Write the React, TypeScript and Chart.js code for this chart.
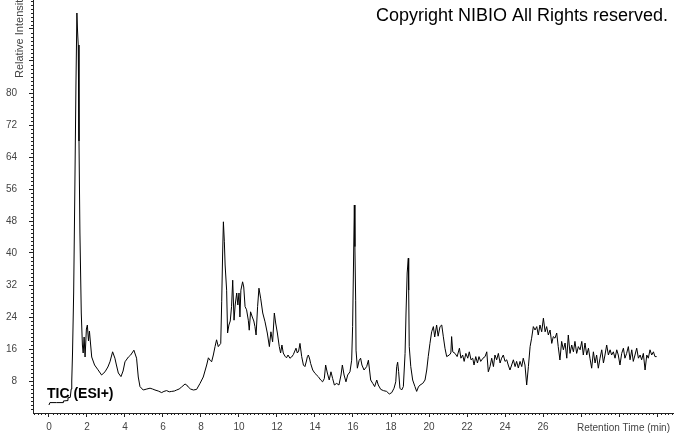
import React, { useEffect, useRef } from 'react';
import { Chart, registerables } from 'chart.js';

Chart.register(...registerables);

// ---- Data ----
const retentionTimes: number[] = [
  0.00, 0.05, 0.40, 0.74, 0.76, 0.95, 1.00, 1.12, 1.17, 1.20, 1.24, 1.30, 1.36, 1.42, 1.47, 1.50, 1.54, 1.58, 1.63, 1.70,
  1.76, 1.80, 1.85, 1.90, 1.97, 2.02, 2.08, 2.13, 2.25, 2.40, 2.58, 2.77, 2.95, 3.10, 3.21, 3.35, 3.47, 3.55, 3.65, 3.79,
  3.90, 4.00, 4.18, 4.30, 4.47, 4.61, 4.70, 4.79, 4.96, 5.15, 5.32, 5.45, 5.58, 5.75, 5.93, 6.05, 6.19, 6.33, 6.46, 6.60,
  6.72, 6.85, 6.98, 7.16, 7.25, 7.33, 7.45, 7.60, 7.77, 7.95, 8.12, 8.30, 8.39, 8.48, 8.56, 8.65, 8.74, 8.82, 8.91, 9.04,
  9.09, 9.14, 9.18, 9.23, 9.27, 9.35, 9.40, 9.47, 9.54, 9.61, 9.67, 9.74, 9.80, 9.88, 9.94, 10.00, 10.05, 10.10, 10.19, 10.25,
  10.32, 10.40, 10.49, 10.54, 10.61, 10.70, 10.78, 10.84, 10.90, 10.98, 11.05, 11.14, 11.25, 11.37, 11.49, 11.60, 11.68, 11.77, 11.86, 11.93,
  12.02, 12.12, 12.19, 12.26, 12.33, 12.42, 12.50, 12.58, 12.68, 12.77, 12.86, 13.00, 13.07, 13.14, 13.21, 13.30, 13.39, 13.47, 13.55, 13.60,
  13.65, 13.72, 13.77, 13.88, 14.00, 14.17, 14.30, 14.40, 14.49, 14.56, 14.65, 14.75, 14.84, 14.93, 15.02, 15.14, 15.26, 15.37, 15.44, 15.53,
  15.63, 15.72, 15.84, 15.93, 15.98, 16.02, 16.07, 16.10, 16.14, 16.16, 16.23, 16.32, 16.40, 16.47, 16.58, 16.72, 16.81, 16.87, 16.93, 17.04,
  17.14, 17.25, 17.33, 17.46, 17.60, 17.77, 17.91, 18.04, 18.16, 18.25, 18.30, 18.35, 18.40, 18.47, 18.56, 18.65, 18.74, 18.79, 18.85, 18.91,
  18.93, 18.96, 19.04, 19.14, 19.26, 19.35, 19.44, 19.53, 19.67, 19.79, 19.88, 19.96, 20.05, 20.14, 20.23, 20.30, 20.40, 20.48, 20.58, 20.67,
  20.75, 20.84, 20.93, 21.07, 21.15, 21.19, 21.25, 21.37, 21.48, 21.60, 21.68, 21.77, 21.85, 21.94, 22.04, 22.12, 22.21, 22.30, 22.37, 22.46,
  22.55, 22.63, 22.72, 22.84, 22.95, 23.04, 23.12, 23.21, 23.30, 23.39, 23.47, 23.56, 23.65, 23.74, 23.82, 23.91, 24.00, 24.09, 24.17, 24.26,
  24.35, 24.44, 24.53, 24.61, 24.70, 24.79, 24.88, 24.96, 25.05, 25.14, 25.23, 25.32, 25.40, 25.49, 25.58, 25.67, 25.75, 25.84, 25.93, 26.02,
  26.11, 26.19, 26.28, 26.37, 26.46, 26.54, 26.63, 26.72, 26.80, 26.89, 26.98, 27.07, 27.16, 27.25, 27.33, 27.42, 27.51, 27.60, 27.68, 27.77,
  27.86, 27.95, 28.04, 28.12, 28.21, 28.30, 28.39, 28.47, 28.56, 28.65, 28.74, 28.82, 28.91, 29.00, 29.09, 29.18, 29.26, 29.35, 29.44, 29.53,
  29.61, 29.70, 29.79, 29.88, 29.96, 30.05, 30.14, 30.23, 30.31, 30.40, 30.49, 30.58, 30.67, 30.75, 30.84, 30.93, 31.02, 31.11, 31.19, 31.28,
  31.37, 31.46, 31.54, 31.63, 31.72, 31.81, 31.89, 31.98,
];

const intensities: number[] = [
  2.0, 2.6, 2.6, 2.6, 3.0, 3.1, 3.8, 3.9, 6.0, 8.0, 15, 30, 55, 82, 100, 96, 92, 68, 45, 25,
  17, 15, 19, 14, 21, 22, 18, 20.5, 14, 12, 10.8, 9.5, 10.3, 11.5, 12.8, 15.3, 13.7, 12, 10, 9.1,
  10.5, 12.8, 14, 14.5, 15.7, 13.7, 9, 6.6, 5.75, 6.0, 6.2, 6.0, 5.75, 5.5, 5.1, 5.4, 5.6, 5.3, 5.4, 5.5,
  5.75, 6.0, 6.5, 7.25, 7.0, 6.5, 6.0, 5.75, 5.9, 7.4, 9.0, 12, 13.8, 13.2, 12.8, 14.5, 16.6, 18.3, 16.6, 17.4,
  27.8, 40, 47.8, 42.8, 37, 30.7, 20, 22, 23, 26.6, 33.2, 23.2, 27, 30, 27, 30, 24, 30.7, 32.8, 31.5,
  26.6, 25.8, 23.2, 20.7, 25.3, 24, 23, 21.6, 19.5, 26.6, 31.2, 28.7, 25, 22.8, 20, 16.6, 20.3, 17.8, 25, 22.5,
  20, 16.6, 15, 17, 15, 14.2, 13.8, 14.5, 13.7, 14.0, 14.6, 16.2, 15, 15.5, 17.4, 14.1, 12, 11.6, 13.0, 14.1,
  14.5, 13.5, 12.4, 10.75, 9.9, 9.1, 8.25, 7.8, 8.6, 12, 10, 8.25, 10.3, 8.6, 7, 7.4, 7, 9.5, 12, 9.5,
  7.8, 9.5, 10.3, 13.2, 21.6, 35, 52, 41.6, 28.2, 15.7, 11.2, 13.1, 13.7, 12, 10.75, 11.6, 13.2, 10.75, 8.25, 7.4,
  6.6, 8.25, 7, 5.9, 5.6, 5.4, 4.75, 5.1, 6.2, 7.8, 11.6, 12.7, 10.4, 6.2, 5.75, 6.6, 14.9, 25, 35, 38.7,
  30.7, 16.6, 11.6, 8.25, 6.6, 5.4, 6.5, 7, 7.4, 8.25, 10.75, 14.1, 17.4, 20.3, 21.6, 19, 22, 19.2, 21.6, 22,
  19.2, 16.2, 14.1, 14.5, 15.0, 19.1, 15.3, 14.9, 14.1, 16.2, 13.7, 14.5, 12.9, 14.9, 13.7, 15.3, 13.3, 13.7, 12, 14.1,
  12.5, 14.1, 12.9, 13.7, 14.1, 15.3, 10.3, 11.6, 13.7, 11.6, 14.5, 13.3, 14.9, 12.5, 13.7, 14.5, 12.9, 13.3, 12, 10.75,
  12, 13.3, 11.6, 12.9, 11.25, 12.9, 11.6, 13.7, 12, 7, 11.6, 16.6, 18.7, 21.6, 20.75, 21.6, 19.5, 22, 20.3, 23.7,
  20.3, 21.6, 19.5, 20.75, 17.4, 19.1, 18.7, 20, 16.6, 13.25, 17.9, 15.8, 17.5, 13.7, 19.5, 14.9, 17, 15.3, 17.9, 14.9,
  16.6, 15.8, 17.9, 14.5, 17.5, 14.5, 16.2, 13.7, 11.2, 15.3, 12.5, 14.5, 11.2, 13.7, 15.8, 12.5, 14.5, 17, 14.5, 15.8,
  14.5, 15.3, 13.7, 15.8, 14.5, 12, 14.9, 16.2, 13.7, 14.9, 16.6, 13.3, 15.8, 12.9, 14.5, 16.2, 13.7, 14.5, 13.3, 14.9,
  10.75, 14.5, 13.7, 15.8, 14.5, 15.3, 14.1, 14.1,
];

// Axis ticks and labels
const xMajorTicks: number[] = [0, 2, 4, 6, 8, 10, 12, 14, 16, 18, 20, 22, 24, 26, 28, 30, 32];
const xTickLabels: string[] = ['0', '2', '4', '6', '8', '10', '12', '14', '16', '18', '20', '22', '24', '26'];
const yMajorTicks: number[] = [8, 16, 24, 32, 40, 48, 56, 64, 72, 80, 88, 96];
const yTickLabels: string[] = ['8', '16', '24', '32', '40', '48', '56', '64', '72', '80'];
const xMinorStep = 0.2;
const yMinorStep = 1;

const X_MIN = -0.84;
const X_MAX = 32.84;
const Y_MIN = 0;
const Y_MAX = 103.25;

const xTitle = 'Retention Time (min)';
const yTitle = 'Relative Intensity';
const copyrightText = 'Copyright NIBIO All Rights reserved.';
const traceLabel = 'TIC (ESI+)';

const FONT = "'Liberation Sans', Arial, sans-serif";
const AXIS_COLOR = '#222';
const LABEL_COLOR = '#444';

const decorPlugin = {
  id: 'decor',
  afterDraw(chart: any) {
    const { ctx, chartArea, scales } = chart;
    const xs = scales.x;
    const ys = scales.y;
    ctx.save();
    ctx.strokeStyle = AXIS_COLOR;
    ctx.lineWidth = 1;
    ctx.beginPath();
    // minor y ticks
    for (let v = Y_MIN; v <= Y_MAX + 1e-6; v += yMinorStep) {
      const r = Math.round(v * 10) / 10;
      if (Math.abs(r % 8) < 1e-6) continue;
      const py = Math.round(ys.getPixelForValue(r)) + 0.5;
      ctx.moveTo(chartArea.left - 2, py);
      ctx.lineTo(chartArea.left, py);
    }
    // minor x ticks
    for (let k = Math.ceil(X_MIN / xMinorStep); k * xMinorStep <= X_MAX; k++) {
      const t = Math.round(k * xMinorStep * 10) / 10;
      if (Math.abs(t % 2) < 1e-6) continue;
      const px = Math.round(xs.getPixelForValue(t)) + 0.5;
      ctx.moveTo(px, chartArea.bottom);
      ctx.lineTo(px, chartArea.bottom + 2);
    }
    ctx.stroke();

    // y-axis title (rotated, cut at top)
    ctx.save();
    ctx.translate(22.5, 78);
    ctx.rotate(-Math.PI / 2);
    ctx.font = `11px ${FONT}`;
    ctx.fillStyle = LABEL_COLOR;
    ctx.textAlign = 'left';
    ctx.textBaseline = 'alphabetic';
    ctx.fillText(yTitle, 0, 0);
    ctx.restore();

    // x-axis title
    ctx.font = `10px ${FONT}`;
    ctx.fillStyle = LABEL_COLOR;
    ctx.textAlign = 'left';
    ctx.textBaseline = 'middle';
    ctx.fillText(xTitle, 577, 428);

    // copyright
    ctx.font = `18px ${FONT}`;
    ctx.fillStyle = '#000';
    ctx.textAlign = 'left';
    ctx.textBaseline = 'alphabetic';
    ctx.fillText(copyrightText, 376, 21);

    // trace label
    ctx.font = `bold 14px ${FONT}`;
    ctx.fillStyle = '#000';
    ctx.fillText(traceLabel, 47, 398);
    ctx.restore();
  },
};

export default function App() {
  const canvasRef = useRef<HTMLCanvasElement | null>(null);

  useEffect(() => {
    const canvas = canvasRef.current;
    if (!canvas) return;
    const points = retentionTimes.map((t, i) => ({ x: t, y: intensities[i] }));
    const chart = new Chart(canvas, {
      type: 'line',
      data: {
        datasets: [
          {
            label: traceLabel,
            data: points,
            borderColor: '#000',
            borderWidth: 1,
            pointRadius: 0,
            tension: 0,
            fill: false,
          },
        ],
      },
      options: {
        animation: false,
        responsive: false,
        maintainAspectRatio: false,
        layout: { padding: { left: 0, right: 1, top: 0, bottom: 0 } },
        plugins: {
          legend: { display: false },
          tooltip: { enabled: false },
          title: { display: false },
        },
        scales: {
          x: {
            type: 'linear',
            min: X_MIN,
            max: X_MAX,
            afterBuildTicks: (s: any) => {
              s.ticks = xMajorTicks.map((v) => ({ value: v }));
            },
            afterFit: (s: any) => {
              s.height = 21;
              s.paddingLeft = 0;
              s.paddingRight = 0;
              s.paddingTop = 0;
              s.paddingBottom = 0;
            },
            ticks: {
              autoSkip: false,
              maxRotation: 0,
              padding: 4,
              color: LABEL_COLOR,
              font: { family: FONT, size: 10 },
              callback: (value: any, index: number) => xTickLabels[index] ?? '',
            },
            grid: { drawOnChartArea: false, drawTicks: true, tickLength: 4, color: AXIS_COLOR },
            border: { display: true, color: AXIS_COLOR, width: 1 },
          },
          y: {
            type: 'linear',
            min: Y_MIN,
            max: Y_MAX,
            afterBuildTicks: (s: any) => {
              s.ticks = yMajorTicks.map((v) => ({ value: v }));
            },
            afterFit: (s: any) => {
              s.width = 33;
              s.paddingLeft = 0;
              s.paddingRight = 0;
              s.paddingTop = 0;
              s.paddingBottom = 0;
            },
            ticks: {
              autoSkip: false,
              padding: 12,
              color: LABEL_COLOR,
              font: { family: FONT, size: 10 },
              callback: (value: any, index: number) => yTickLabels[index] ?? '',
            },
            grid: { drawOnChartArea: false, drawTicks: true, tickLength: 4, color: AXIS_COLOR },
            border: { display: true, color: AXIS_COLOR, width: 1 },
          },
        },
      },
      plugins: [decorPlugin],
    });
    return () => chart.destroy();
  }, []);

  return (
    <div style={{ position: 'fixed', left: 0, top: 0, width: 674, height: 434, background: '#fff' }}>
      <canvas ref={canvasRef} width={674} height={434} style={{ display: 'block' }} />
    </div>
  );
}
